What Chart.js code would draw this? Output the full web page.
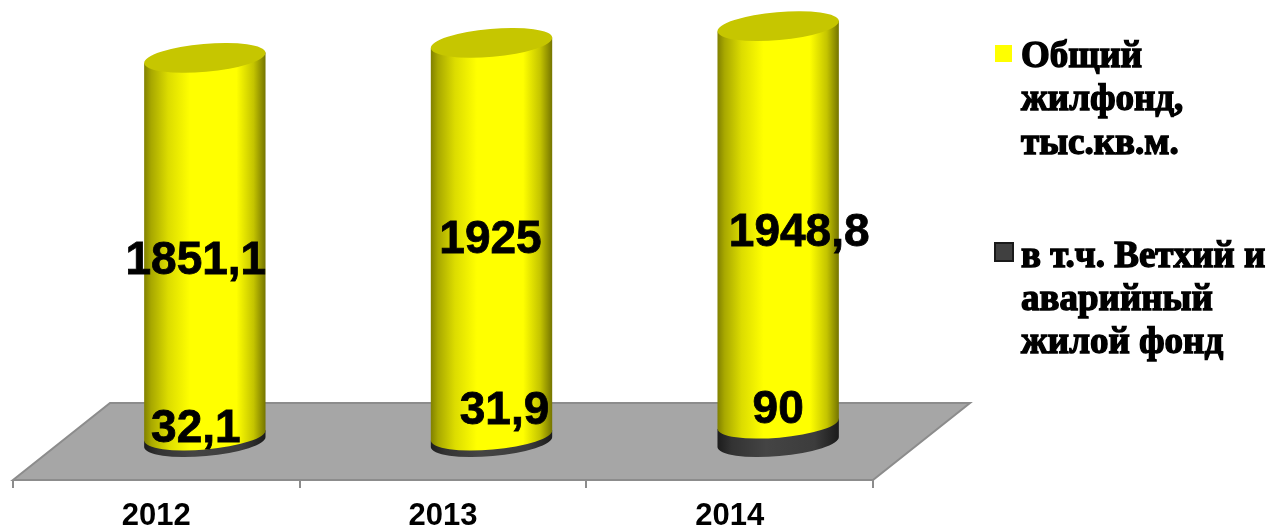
<!DOCTYPE html>
<html><head><meta charset="utf-8">
<style>html,body{margin:0;padding:0;background:#fff;overflow:hidden}canvas{display:block}</style>
<script src="https://cdn.jsdelivr.net/npm/chart.js@4/dist/chart.umd.min.js"></script>
</head><body><canvas id="c" width="1270" height="527"></canvas>
<script>
const categories = ['2012', '2013', '2014'];
const totalStock = [1851.1, 1925, 1948.8];
const dilapidated = [32.1, 31.9, 90];
const totalLabels = ['1851,1', '1925', '1948,8'];
const dilapidatedLabels = ['32,1', '31,9', '90'];
const legendTotal = ['Общий', 'жилфонд,', 'тыс.кв.м.'];
const legendDilapidated = ['в т.ч. Ветхий и', 'аварийный', 'жилой фонд'];

const DEPTH_X = 97, DEPTH_Y = 77, BAR_SHIFT = 48.5, TILT = -5 * Math.PI / 180, RY = 14;
const TOTAL_OFF = [[-9, 15], [-1, 1], [21, 8]];
const DIL_OFF = [[-9, -9], [13, -27], [0, -23]];

function grad(ctx, l, r, stops) {
  const g = ctx.createLinearGradient(l, 0, r, 0);
  stops.forEach(s => g.addColorStop(s[0], s[1]));
  return g;
}
const YELLOW = [[0, '#7f7f00'], [0.06, '#a8a800'], [0.2, '#dcdc00'], [0.38, '#ffff00'], [0.76, '#ffff00'], [0.9, '#c4c400'], [1, '#737300']];
const DARK = [[0, '#1c1c1c'], [0.12, '#333'], [0.4, '#444'], [0.8, '#3c3c3c'], [1, '#1a1a1a']];

function cylinder(ctx, bar, stops, topColor) {
  const cx = bar.x + BAR_SHIFT, rx = bar.width / 2;
  const yt = bar.y, yb = bar.base;
  const dy = rx * Math.sin(TILT), dx = rx * Math.cos(TILT);
  ctx.beginPath();
  ctx.moveTo(cx - dx, yt - dy);
  ctx.lineTo(cx - dx, yb - dy);
  ctx.ellipse(cx, yb, rx, RY, TILT, Math.PI, 0, true);
  ctx.lineTo(cx + dx, yt + dy);
  ctx.closePath();
  ctx.fillStyle = grad(ctx, cx - rx, cx + rx, stops);
  ctx.fill();
  if (topColor) {
    ctx.beginPath();
    ctx.ellipse(cx, yt, rx, RY, TILT, 0, Math.PI * 2);
    ctx.fillStyle = topColor;
    ctx.fill();
  }
}

const cylinderPlugin = {
  id: 'cylinders',
  beforeDatasetsDraw(chart) {
    const { ctx, chartArea: a } = chart;
    ctx.save();
    ctx.beginPath();
    ctx.moveTo(a.left, a.bottom);
    ctx.lineTo(a.left + DEPTH_X, a.bottom - DEPTH_Y);
    ctx.lineTo(a.right + DEPTH_X, a.bottom - DEPTH_Y);
    ctx.lineTo(a.right, a.bottom);
    ctx.closePath();
    ctx.fillStyle = '#a6a6a6';
    ctx.fill();
    ctx.strokeStyle = '#8c8c8c';
    ctx.lineWidth = 2;
    ctx.stroke();
    chart.getDatasetMeta(0).data.forEach(bar => cylinder(ctx, bar, DARK, null));
    chart.getDatasetMeta(1).data.forEach(bar => cylinder(ctx, bar, YELLOW, '#c6c600'));
    ctx.restore();
  },
  beforeDatasetDraw() { return false; },
  afterDatasetsDraw(chart) {
    const { ctx } = chart;
    ctx.save();
    ctx.fillStyle = '#000';
    ctx.strokeStyle = '#000';
    ctx.textAlign = 'center';
    ctx.textBaseline = 'middle';
    ctx.font = 'bold 46px "Liberation Sans", Arial, sans-serif';
    ctx.lineWidth = 0.8;
    const line = (t, x, y) => { ctx.fillText(t, x, y); ctx.strokeText(t, x, y); };
    const dark = chart.getDatasetMeta(0).data, yel = chart.getDatasetMeta(1).data;
    yel.forEach((b, i) => {
      line(totalLabels[i], b.x + BAR_SHIFT + TOTAL_OFF[i][0], (b.y + b.base) / 2 + TOTAL_OFF[i][1]);
    });
    dark.forEach((b, i) => {
      line(dilapidatedLabels[i], b.x + BAR_SHIFT + DIL_OFF[i][0], (b.y + b.base) / 2 + DIL_OFF[i][1]);
    });
    // legend
    ctx.textAlign = 'left';
    ctx.font = 'bold 37px "Liberation Serif", "Times New Roman", serif';
    ctx.lineWidth = 1.4;
    legendTotal.forEach((t, i) => line(t, 1021, 57 + i * 43.5));
    legendDilapidated.forEach((t, i) => line(t, 1021, 257 + i * 43));
    ctx.fillStyle = chart.data.datasets[1].backgroundColor;
    ctx.fillRect(995, 45, 17, 17);
    ctx.fillStyle = chart.data.datasets[0].backgroundColor;
    ctx.fillRect(995, 243, 18, 18);
    ctx.strokeStyle = '#1a1a1a';
    ctx.lineWidth = 2;
    ctx.strokeRect(995, 243, 18, 18);
    ctx.restore();
  }
};

new Chart(document.getElementById('c'), {
  type: 'bar',
  data: {
    labels: categories,
    datasets: [
      { label: legendDilapidated.join(' '), data: dilapidated, backgroundColor: '#404040' },
      { label: legendTotal.join(' '), data: totalStock, backgroundColor: '#ffff00' }
    ]
  },
  plugins: [cylinderPlugin],
  options: {
    responsive: false,
    animation: false,
    layout: { padding: { left: 13, right: 397, top: 10, bottom: 0 } },
    plugins: { legend: { display: false }, tooltip: { enabled: false }, title: { display: false } },
    scales: {
      x: {
        stacked: true,
        categoryPercentage: 1,
        afterFit(s) { s.height = 47; },
        grid: { display: true, drawOnChartArea: false, drawTicks: true, tickLength: 8, color: '#8c8c8c', lineWidth: 2, offset: true },
        border: { display: false },
        ticks: { color: '#000', padding: 10, maxRotation: 0, font: { family: '"Liberation Sans", Arial, sans-serif', weight: 'bold', size: 31 } }
      },
      y: { stacked: true, display: false, min: -186, max: 2118 }
    },
    datasets: { bar: { barPercentage: 0.425, categoryPercentage: 1 } }
  }
});
</script></body></html>
